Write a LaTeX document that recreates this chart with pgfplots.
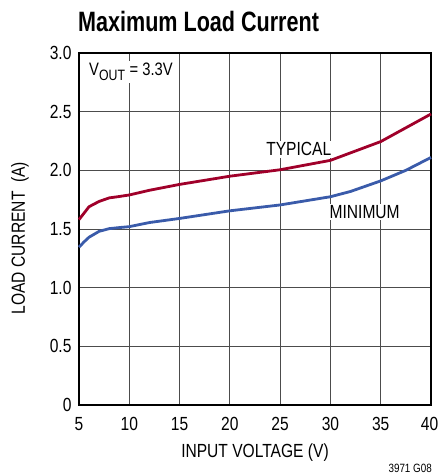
\documentclass[border=0pt]{standalone}
\usepackage{fontspec}
\setmainfont{Liberation Sans}[FakeStretch=0.82]
\newfontfamily\titlefont{Liberation Sans}[FakeStretch=0.77]
\usepackage{pgfplots}
\pgfplotsset{compat=1.18}
\definecolor{typred}{HTML}{A0002A}
\definecolor{minblue}{HTML}{3A5BAA}
\begin{document}
\begin{tikzpicture}
\path[use as bounding box] (-79pt,-70pt) rectangle (360pt,405pt);
\begin{axis}[
  scale only axis, width=352pt, height=352pt,
  at={(0,0)}, anchor=south west,
  xmin=5, xmax=40, ymin=0, ymax=3,
  xtick={5,10,15,20,25,30,35,40},
  xticklabels={5,10,15,20,25,30,35,\makebox[0pt][l]{\hspace*{-10pt}40}},
  ytick={0,0.5,1,1.5,2,2.5,3},
  yticklabels={0,0.5,1.0,1.5,2.0,2.5,3.0},
  grid=major, major grid style={black!70, line width=0.9pt},
  major tick length=0pt,
  axis line style={line width=1.6pt},
  /pgf/number format/assume math mode=true,
  tick label style={font=\fontsize{19}{22}\selectfont},
  xticklabel style={anchor=base, yshift=-25.7pt},
  yticklabel style={xshift=-4pt},
  xlabel={INPUT VOLTAGE (V)},
  ylabel={LOAD CURRENT\ \ (A)},
  label style={font=\fontsize{19}{22}\selectfont},
  xlabel style={at={(axis description cs:0.5,-0.1486)}, anchor=base},
  ylabel style={at={(axis description cs:-0.168,0.474)}, anchor=center, rotate=0},
  clip=false,
]
\addplot[typred, line width=2.8pt] coordinates {
 (5,1.58) (5.5,1.635) (6,1.69) (7,1.735) (8,1.765) (9,1.777) (10,1.79)
 (12,1.83) (15,1.88) (20,1.95) (25,2.005) (30,2.085) (35,2.245) (40,2.48)};
\addplot[minblue, line width=2.8pt] coordinates {
 (5,1.345) (5.5,1.39) (6,1.43) (7,1.48) (8,1.503) (9,1.512) (10,1.52)
 (12,1.555) (15,1.59) (20,1.655) (25,1.705) (30,1.775) (32,1.82) (35,1.91)
 (37.5,2.0) (40,2.11)};
\node[fill=white, inner sep=2pt, anchor=base west, font=\fontsize{18}{20}\selectfont]
  at (axis cs:5.8,2.805) {V\textsubscript{\fontsize{15}{16}\selectfont OUT} = 3.3V};
\node[fill=white, inner sep=1.5pt, anchor=base west, font=\fontsize{19}{22}\selectfont]
  at (axis cs:23.45,2.123) {TYPICAL};
\node[fill=white, inner sep=1.5pt, anchor=base west, font=\fontsize{19}{22}\selectfont]
  at (axis cs:29.75,1.592) {MINIMUM};
\end{axis}
\node[anchor=base west, inner sep=0pt, font=\titlefont\bfseries\fontsize{28}{32}\selectfont]
  at (-1pt,373.3pt) {Maximum Load Current};
\node[anchor=base east, inner sep=0pt, font=\fontsize{12}{14}\selectfont]
  at (353pt,-67.7pt) {3971 G08};
\end{tikzpicture}
\end{document}
